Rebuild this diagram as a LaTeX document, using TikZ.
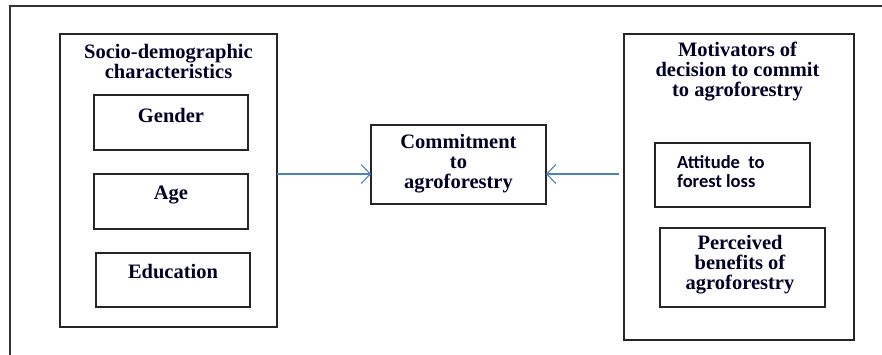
\documentclass[tikz,border=0pt]{standalone}
\usepackage{fontspec}
\setmainfont{Liberation Serif}
\newfontfamily\calfont{Carlito}
\usetikzlibrary{arrows.meta}
\definecolor{arrowblue}{RGB}{79,129,189}
\tikzset{
  box/.style={draw=black!85, line width=1.4pt, inner sep=0pt, outer sep=0pt},
  lbl/.style={font=\fontsize{20.5}{19.5}\selectfont\bfseries, align=center, inner sep=0pt, text=black!85!blue},
  clbl/.style={font=\fontsize{18.5}{19}\calfont\bfseries, align=left, inner sep=0pt, text=black!85!blue},
  conn/.style={draw=arrowblue, line width=1.1pt, -{Straight Barb[length=9pt,width=19pt,line width=1.1pt]}}
}
\begin{document}
\begin{tikzpicture}[x=1pt,y=-1pt]
\useasboundingbox (0,0) rectangle (882,354);
% outer frame (cut at right and bottom)
\coordinate (ob) at (10,356);
\coordinate (otl) at (10,6);
\coordinate (otr) at (884,6);
\draw[black!80, line width=1.2pt] (ob) -- (otl) -- (otr);

% left group
\node[box, minimum width=217pt, minimum height=293pt] (left) at (168.5,180.5) {};
\node[lbl, anchor=base, font=\fontsize{20.5}{20}\selectfont\bfseries] (lefttitle) at (168.5,78) {Socio-demographic\\characteristics};
\node[box, minimum width=154pt, minimum height=55pt] (gender) at (171,122.5) {};
\node[lbl, anchor=base] (gendert) at (171,122) {Gender};
\node[box, minimum width=154pt, minimum height=55pt] (age) at (171,201.5) {};
\node[lbl, anchor=base] (aget) at (171,199) {Age};
\node[box, minimum width=154pt, minimum height=54pt] (edu) at (173,280) {};
\node[lbl, anchor=base] (edut) at (173,278) {Education};

% centre
\node[box, minimum width=175pt, minimum height=79pt] (commit) at (458.5,164.5) {};
\node[lbl, anchor=base, font=\fontsize{20.5}{20}\selectfont\bfseries] (committ) at (458.5,188) {Commitment\\to\\agroforestry};

% right group
\node[box, minimum width=230pt, minimum height=306pt] (right) at (739,187) {};
\node[lbl, anchor=base, font=\fontsize{20.5}{20}\selectfont\bfseries] (righttitle) at (737.5,96) {Motivators of\\decision to commit\\to agroforestry};
\node[box, minimum width=155pt, minimum height=64pt] (att) at (732.5,175) {};
\node[clbl, anchor=base west] (attt) at (677,187) {Attitude\ \ to\\forest loss};
\node[box, minimum width=165pt, minimum height=79pt] (perc) at (742.5,267.5) {};
\node[lbl, anchor=base, font=\fontsize{20.5}{20}\selectfont\bfseries] (perct) at (740,289) {Perceived\\benefits of\\agroforestry};

% connectors
\coordinate (la) at (left.east |- 0,174);
\coordinate (lb) at (commit.west |- 0,174);
\coordinate (ra) at ([xshift=-5pt]right.west |- 0,174);
\coordinate (rb) at (commit.east |- 0,174);
\draw[conn] (la) -- (lb);
\draw[conn] (ra) -- (rb);
\end{tikzpicture}
\end{document}
